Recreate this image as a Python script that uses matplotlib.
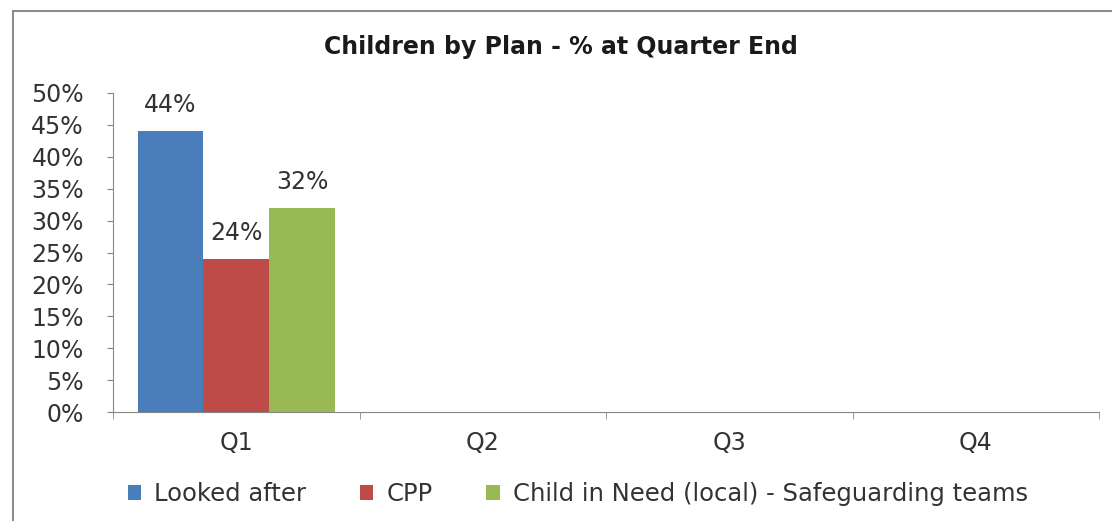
import matplotlib.pyplot as plt
import matplotlib.patches as mpatches
import numpy as np

plt.rcParams['font.family'] = ['DejaVu Sans']

quarters = ['Q1', 'Q2', 'Q3', 'Q4']
series = ['Looked after', 'CPP', 'Child in Need (local) - Safeguarding teams']
looked_after = [44, None, None, None]
cpp = [24, None, None, None]
cin = [32, None, None, None]
colors = ['#4a7ebb', '#be4b48', '#98b954']
values = [looked_after, cpp, cin]

fig = plt.figure(figsize=(11.12, 5.21), dpi=100)
# outer chart border (only top/left visible in the crop)
fig.patches.append(mpatches.Rectangle((13/1112, -0.1), 1.2, 1 - 11/521 + 0.1,
                                      transform=fig.transFigure, fill=False,
                                      edgecolor='#8c8c8c', linewidth=1.5))

ax = fig.add_axes([113/1112, 1 - 412/521, (1099 - 113)/1112, (412 - 93)/521])

x = np.arange(len(quarters))
w = 0.8 / 3
for i, (name, vals, c) in enumerate(zip(series, values, colors)):
    xs = [x[j] + (i - 1) * w for j in range(len(vals)) if vals[j] is not None]
    ys = [v for v in vals if v is not None]
    bars = ax.bar(xs, ys, width=w, color=c, label=name)
    for b, v in zip(bars, ys):
        ax.annotate(f'{v}%', (b.get_x() + b.get_width() / 2, v),
                    xytext=(0, 10), textcoords='offset points',
                    ha='center', va='bottom', fontsize=17, color='#333333')

ax.set_xlim(-0.5, 3.5)
ax.set_ylim(0, 50)
ax.set_yticks(range(0, 51, 5))
ax.set_yticklabels([f'{v}%' for v in range(0, 51, 5)], fontsize=17, color='#333333')
ax.set_xticks(x)
ax.set_xticklabels(quarters, fontsize=17, color='#333333')
ax.set_xticks(np.arange(-0.5, 4, 1), minor=True)
ax.tick_params(axis='x', which='major', length=0, pad=14)
ax.tick_params(axis='x', which='minor', length=5, color='#868686', direction='out')
ax.tick_params(axis='y', length=4, color='#868686', pad=17)
for s in ['top', 'right']:
    ax.spines[s].set_visible(False)
for s in ['left', 'bottom']:
    ax.spines[s].set_color('#868686')

fig.text(561/1112, 1 - 47/521, 'Children by Plan - % at Quarter End',
         ha='center', va='center', fontsize=17, fontweight='bold', color='#1a1a1a')

fig.legend(loc='center', bbox_to_anchor=(578/1112, 1 - 494/521), ncol=3,
           frameon=False, fontsize=17.5, handlelength=0.55, handleheight=0.55,
           handletextpad=0.55, columnspacing=2.2, labelcolor='#333333')

fig.savefig('out.png', dpi=100)
